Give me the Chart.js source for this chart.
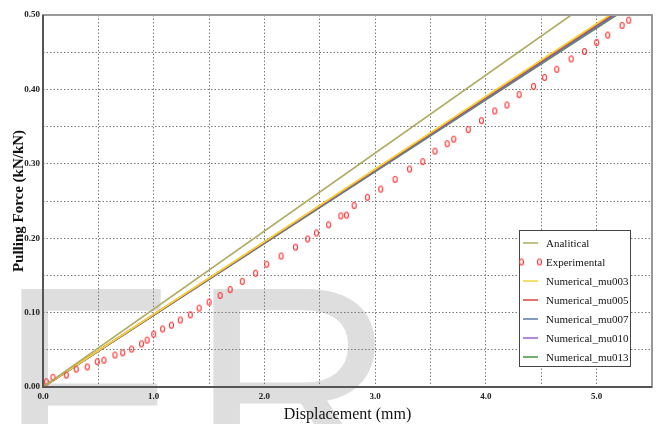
<!DOCTYPE html>
<html>
<head>
<meta charset="utf-8">
<script src="https://cdn.jsdelivr.net/npm/chart.js@4"></script>
<style>
  html, body { margin: 0; padding: 0; background: #fff; }
  #wrap { width: 662px; height: 424px; }
</style>
</head>
<body>
<div id="wrap"><canvas id="forceChart" width="662" height="424"></canvas></div>
<script>
// displacement (mm) / pulling force (kN/kN)
const dispExp = [0, 0.03, 0.09, 0.21, 0.30, 0.40, 0.49, 0.55, 0.65, 0.72, 0.80, 0.89, 0.94, 1.00, 1.08,
    1.16, 1.24, 1.33, 1.41, 1.50, 1.60, 1.69, 1.80, 1.92, 2.02, 2.15, 2.28, 2.39, 2.47, 2.58, 2.69, 2.74,
    2.81, 2.93, 3.05, 3.18, 3.31, 3.43, 3.54, 3.65, 3.71, 3.84, 3.96, 4.08, 4.19, 4.30, 4.43, 4.53, 4.64,
    4.77, 4.89, 5.00, 5.10, 5.23, 5.29];
const forceExp = [0, 0.007, 0.013, 0.016, 0.024, 0.027, 0.034, 0.036, 0.043, 0.046, 0.051, 0.058, 0.063, 0.071, 0.078,
    0.083, 0.090, 0.097, 0.106, 0.114, 0.123, 0.131, 0.142, 0.153, 0.165, 0.176, 0.188, 0.199, 0.207, 0.218, 0.230, 0.231,
    0.244, 0.255, 0.266, 0.279, 0.293, 0.303, 0.317, 0.327, 0.333, 0.346, 0.358, 0.371, 0.379, 0.393, 0.404, 0.416, 0.427,
    0.441, 0.451, 0.463, 0.473, 0.486, 0.493];

const dispAnalitical = [0, 4.77];
const forceAnalitical = [0, 0.5];

const dispMu003 = [0, 5.12];
const dispMu005 = [0, 5.135];
const dispMu007 = [0, 5.15];
const dispMu010 = [0, 5.165];
const dispMu013 = [0, 5.18];
const forceNumerical = [0, 0.5];

const xTicks = [0, 1, 2, 3, 4, 5];
const yTicks = [0, 0.1, 0.2, 0.3, 0.4, 0.5];

const pts = (xs, ys) => xs.map((x, i) => ({ x, y: ys[i] }));

// small hollow red ellipse used as marker
const marker = document.createElement("canvas");
marker.width = 7;
marker.height = 9;
{
    const c = marker.getContext("2d");
    c.strokeStyle = "#ff2f2f";
    c.lineWidth = 1.1;
    c.beginPath();
    c.ellipse(3.5, 4.5, 2, 3, 0, 0, Math.PI * 2);
    c.stroke();
}

const lineSet = (label, data, color, width = 1.8) => ({
    label,
    data,
    borderColor: color,
    backgroundColor: color,
    borderWidth: width,
    pointRadius: 0,
    fill: false,
    tension: 0,
});

const datasets = [
    lineSet("Analitical", pts(dispAnalitical, forceAnalitical), "#aeab62", 1.6),
    {
        label: "Experimental",
        data: pts(dispExp, forceExp),
        showLine: false,
        pointStyle: marker,
        pointRadius: 3,
        borderColor: "#ff2f2f",
        backgroundColor: "#ff2f2f",
    },
    lineSet("Numerical_mu003", pts(dispMu003, forceNumerical), "#efd43a"),
    lineSet("Numerical_mu005", pts(dispMu005, forceNumerical), "#d9473a"),
    lineSet("Numerical_mu007", pts(dispMu007, forceNumerical), "#5a78a8"),
    lineSet("Numerical_mu010", pts(dispMu010, forceNumerical), "#9a62c8"),
    lineSet("Numerical_mu013", pts(dispMu013, forceNumerical), "#3f963f"),
];

const watermark = {
    id: "watermark",
    beforeDraw(chart) {
        const ctx = chart.ctx;
        ctx.save();
        ctx.fillStyle = "#dedede";
        ctx.font = "285px 'Liberation Sans'";
        ctx.textBaseline = "alphabetic";
        ctx.fillText("F", -2, 485);
        ctx.fillText("R", 190, 485);
        ctx.restore();
    },
};

const frame = {
    id: "frame",
    afterDatasetsDraw(chart) {
        const { ctx, chartArea: a } = chart;
        ctx.save();
        ctx.strokeStyle = "#999";
        ctx.lineWidth = 2;
        ctx.strokeRect(a.left, a.top, a.right - a.left, a.bottom - a.top);
        ctx.strokeStyle = "#555";
        ctx.beginPath();
        ctx.moveTo(a.left, a.top);
        ctx.lineTo(a.left, a.bottom);
        ctx.lineTo(a.right, a.bottom);
        ctx.stroke();
        ctx.restore();
    },
};

const boxLegend = {
    id: "boxLegend",
    afterDraw(chart) {
        const ctx = chart.ctx;
        const x0 = 519, y0 = 230, w = 111, h = 136, row = 19;
        ctx.save();
        ctx.fillStyle = "#fff";
        ctx.fillRect(x0, y0, w, h);
        ctx.strokeStyle = "#444";
        ctx.lineWidth = 1;
        ctx.strokeRect(x0 + 0.5, y0 + 0.5, w, h);
        ctx.font = "11px 'Liberation Serif'";
        ctx.textBaseline = "middle";
        chart.data.datasets.forEach((ds, i) => {
            const y = y0 + 13 + i * row;
            if (ds.showLine === false) {
                ctx.drawImage(marker, 518, y - 4.5);
                ctx.drawImage(marker, 536, y - 4.5);
            } else {
                ctx.strokeStyle = ds.borderColor;
                ctx.lineWidth = 1.5;
                ctx.beginPath();
                ctx.moveTo(523, y);
                ctx.lineTo(538, y);
                ctx.stroke();
            }
            ctx.fillStyle = "#111";
            ctx.fillText(ds.label, 546, y + 1);
        });
        ctx.restore();
    },
};

const tickFont = { family: "'Liberation Serif'", size: 9, weight: "bold" };

new Chart(document.getElementById("forceChart"), {
    type: "line",
    data: { datasets },
    plugins: [watermark, frame, boxLegend],
    options: {
        responsive: false,
        animation: false,
        layout: { padding: { left: 0, right: 10, top: 15, bottom: 0 } },
        plugins: {
            legend: { display: false },
            tooltip: { enabled: false },
        },
        scales: {
            x: {
                type: "linear",
                min: 0,
                max: 5.5,
                afterFit(scale) { scale.height = 37; },
                ticks: {
                    stepSize: 0.5,
                    padding: 4,
                    color: "#222",
                    font: tickFont,
                    callback: (v) => (xTicks.some((t) => Math.abs(t - v) < 1e-6) ? v.toFixed(1) : ""),
                },
                grid: { color: "#7a7a7a", lineWidth: 1, drawTicks: false },
                border: { display: false, dash: [1.5, 2] },
                title: {
                    display: true,
                    text: "Displacement (mm)",
                    color: "#111",
                    font: { family: "'Liberation Serif'", size: 16 },
                    padding: { top: 0, bottom: 0 },
                },
            },
            y: {
                min: 0,
                max: 0.5,
                afterFit(scale) { scale.width = 43; },
                ticks: {
                    stepSize: 0.05,
                    padding: 3,
                    color: "#222",
                    font: tickFont,
                    callback: (v) => (yTicks.some((t) => Math.abs(t - v) < 1e-6) ? v.toFixed(2) : ""),
                },
                grid: { color: "#7a7a7a", lineWidth: 1, drawTicks: false },
                border: { display: false, dash: [1.5, 2] },
                title: {
                    display: true,
                    text: "Pulling Force (kN/kN)",
                    color: "#111",
                    font: { family: "'Liberation Serif'", size: 15, weight: "bold" },
                    padding: { top: 10, bottom: 0 },
                },
            },
        },
    },
});
</script>
</body>
</html>
